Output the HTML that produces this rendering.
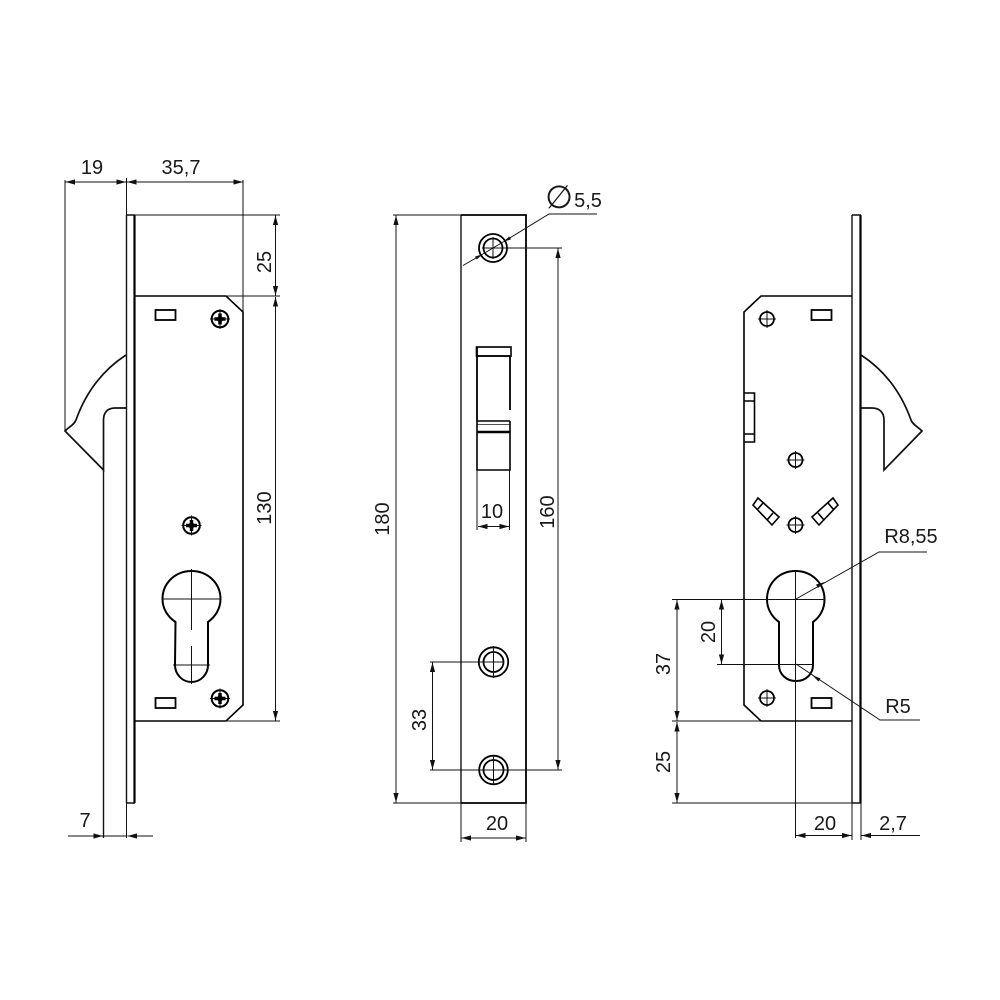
<!DOCTYPE html>
<html><head><meta charset="utf-8"><style>
html,body{margin:0;padding:0;background:#fff}
svg{display:block}
text{font-family:"Liberation Sans",sans-serif;font-size:20px;fill:#1a1a1a;text-anchor:middle}
.t{fill:none;stroke:#111;stroke-width:1}
.m{fill:none;stroke:#111;stroke-width:1.4}
.b{fill:none;stroke:#000;stroke-width:2}
.a{fill:none;stroke:#111;stroke-width:1;marker-start:url(#ar);marker-end:url(#ar)}
.e{fill:none;stroke:#111;stroke-width:1;marker-end:url(#ar)}
</style></head><body>
<svg width="1000" height="1000" viewBox="0 0 1000 1000" xmlns="http://www.w3.org/2000/svg">
<defs>
<marker id="ar" markerUnits="userSpaceOnUse" markerWidth="10" markerHeight="6" refX="9.5" refY="3" orient="auto-start-reverse"><path d="M0 .4L9.5 3L0 5.6Z" fill="#111"/></marker>
<g id="sc"><circle r="8.3" fill="none" stroke="#000" stroke-width="2"/><path d="M-10 0H10M0-10V10" stroke="#111" stroke-width="1"/><path d="M-5.5 0H5.500M0-5.500V5.500" stroke="#000" stroke-width="3.500"/><circle r="3" fill="#000"/></g>
<g id="st"><circle r="7" fill="none" stroke="#000" stroke-width="1.800"/><path d="M-9 0H9M0-9V9" stroke="#111" stroke-width="1"/></g>
</defs>

<!-- LEFT VIEW -->
<path class="m" d="M126.500 215V803"/>
<path d="M134.500 215V803" stroke="#000" stroke-width="2.200" fill="none"/>
<path class="m" d="M126 215H135M126 803H135"/>
<path class="b" d="M135 296H226L243 312V705L226 721H135" style="stroke-width:1.600"/>
<path class="m" d="M126 355C103 370 86 392 76 420C74 425 70 426 65 431L103.500 470V420C103.500 412 108 408 115 408H126" style="stroke-width:1.700"/>
<path class="m" d="M103.500 470V838"/>
<rect x="155.500" y="310" width="20" height="10" fill="none" stroke="#000" stroke-width="1.800"/>
<rect x="155.500" y="698" width="20" height="10" fill="none" stroke="#000" stroke-width="1.800"/>
<use href="#sc" x="220" y="319"/><use href="#sc" x="191.500" y="525.500"/><use href="#sc" x="220" y="698.500"/>
<path class="b" d="M175.500 622L175 665C175 674 182 682 191.500 682C201 682 208 674 208 665V622C215 617 220.500 609 220.500 599C220.500 583 207.500 571 191.500 571C175.500 571 162.500 583 162.500 599C162.500 609 168 617 175.500 622Z"/>
<path class="t" d="M162 599H221M173 665H210M191.500 569V630M191.500 646V684"/>
<path class="t" d="M65 180V431M126.500 178V215M126.500 803V838M243 180V312M135 215H280M226 296H280M226 721H280"/>
<path class="a" d="M65.500 182H126"/>
<path class="a" d="M127 182H243"/>
<path class="a" d="M275.500 215.500V295.500"/>
<path class="a" d="M275.500 297V720.500"/>
<path class="e" d="M68 836H103"/>
<path class="t" d="M103 836H127"/>
<path class="e" d="M153 836H127.500"/>

<!-- MIDDLE VIEW -->
<path class="m" d="M461 215V803"/>
<path class="b" d="M461 215H526V803H461" style="stroke-width:1.800"/>
<circle cx="493" cy="248" r="14" fill="none" stroke="#000" stroke-width="1.800"/>
<circle cx="493" cy="248" r="9.500" fill="none" stroke="#000" stroke-width="1.800"/>
<circle cx="493.500" cy="662" r="14.700" fill="none" stroke="#000" stroke-width="1.800"/>
<circle cx="493.500" cy="662" r="10" fill="none" stroke="#000" stroke-width="1.800"/>
<circle cx="493.500" cy="770" r="14.300" fill="none" stroke="#000" stroke-width="1.800"/>
<circle cx="493.500" cy="770" r="10" fill="none" stroke="#000" stroke-width="1.800"/>
<path class="t" d="M493 237V259M482 248H562M493.500 646V678M430 662H504M493.500 755V785M430 770H562"/>
<path d="M476.500 347H511V356H476.500Z" fill="none" stroke="#111" stroke-width="1.700"/>
<path class="b" d="M477 347V421M510 356V410" style="stroke-width:1.800"/>
<path class="b" d="M477 356H510" style="stroke-width:1.500"/>
<path class="b" d="M477 421H510" style="stroke-width:1.500"/>
<path d="M477 424.500H510" stroke="#555" stroke-width="1"/>
<path class="b" d="M477 432H510" style="stroke-width:2.600"/>
<path class="b" d="M477 421V470H510V421" style="stroke-width:1.600"/>
<path class="t" d="M477 470V530M509.500 470V530"/>
<path class="a" d="M478 526.500H509"/>
<path class="t" d="M393 215H461M393 803H461M461 803V842M526 803V842"/>
<path class="a" d="M396 215.500V802.500"/>
<path class="a" d="M558 248.500V769.500"/>
<path class="a" d="M432.500 662.500V769.500"/>
<path class="a" d="M461.500 838H525.500"/>
<path class="t" d="M463 265.500L482 254.500M504 241.500L549 214H597"/>
<path d="M482.500 254.200L475 256.600L476.800 259.500Z M503.500 241.800L511 239.400L509.200 236.500Z" fill="#111"/>
<path class="t" d="M482 254.500L504 241.500"/>

<!-- RIGHT VIEW -->
<path class="m" d="M852 215V803"/>
<path d="M860.500 215V803" stroke="#000" stroke-width="2.200" fill="none"/>
<path class="m" d="M852 215H861M852 803H861"/>
<path class="b" d="M852 296H761L744 312V705L761 721H852" style="stroke-width:1.600"/>
<path class="m" d="M861 355C884 370 901 392 911 420C913 425 917 426 922 431L884 470V420C884 412 879 408 872 408H861" style="stroke-width:1.700"/>
<rect x="811.500" y="310" width="20" height="10" fill="none" stroke="#000" stroke-width="1.800"/>
<rect x="811.500" y="698" width="20" height="10" fill="none" stroke="#000" stroke-width="1.800"/>
<path class="b" d="M744 393H754.500V442H744M744 401H754.500M744 434H754.500" style="stroke-width:1.600"/>
<use href="#st" x="767" y="319"/><use href="#st" x="795.500" y="460"/><use href="#st" x="795.500" y="525"/><use href="#st" x="767" y="698"/>
<path class="b" d="M758 498L753 505L772 525L779 517ZM763 503L757 510M773 513L767 520" style="stroke-width:1.600"/>
<path class="b" d="M833 498L838 505L819 525L812 517ZM828 503L834 510M818 513L824 520" style="stroke-width:1.600"/>
<path class="b" d="M779 622V665C779 674 786 681 796 681C806 681 813 674 813 665V622C820 617 824.500 609 824.500 599.500C824.500 583 811.500 571 795.500 571C779.500 571 767 583 767 599.500C767 609 772 617 779 622Z"/>
<path class="t" d="M795.500 570V838M672 599.500H825M717 664.500H814M672 721H852M672 803H860"/>
<path class="a" d="M677 600V720.500"/>
<path class="a" d="M677 722V802.500"/>
<path class="a" d="M721.500 600V664"/>
<path class="a" d="M796 835.500H851.500"/>
<path class="e" d="M920 835.500H861.500"/>
<path class="t" d="M852 803V840M861 803V840"/>
<path class="t" d="M796 599L879 552H927"/>
<path d="M825 582L816 584.500L818 588Z" fill="#111"/>
<path class="t" d="M796 664L880 720H920"/>
<path d="M812 675L818.500 681.500L820.500 678.500Z" fill="#111"/>

<!-- TEXT -->
<text x="92" y="174">19</text>
<text x="181" y="174">35,7</text>
<text transform="translate(271 262) rotate(-90)">25</text>
<text transform="translate(271 508) rotate(-90)">130</text>
<text x="85" y="827">7</text>
<text transform="translate(389 519) rotate(-90)">180</text>
<text transform="translate(554 512) rotate(-90)">160</text>
<text x="492" y="518">10</text>
<text transform="translate(426 720) rotate(-90)">33</text>
<text x="497" y="830">20</text>
<text x="559" y="208" style="font-family:'DejaVu Sans',sans-serif;font-size:32px">∅</text>
<text x="588" y="207">5,5</text>
<text x="911" y="543">R8,55</text>
<text x="898" y="713">R5</text>
<text transform="translate(715 632) rotate(-90)">20</text>
<text transform="translate(670 664) rotate(-90)">37</text>
<text transform="translate(670 762) rotate(-90)">25</text>
<text x="825" y="830">20</text>
<text x="893" y="830">2,7</text>
</svg>
</body></html>
